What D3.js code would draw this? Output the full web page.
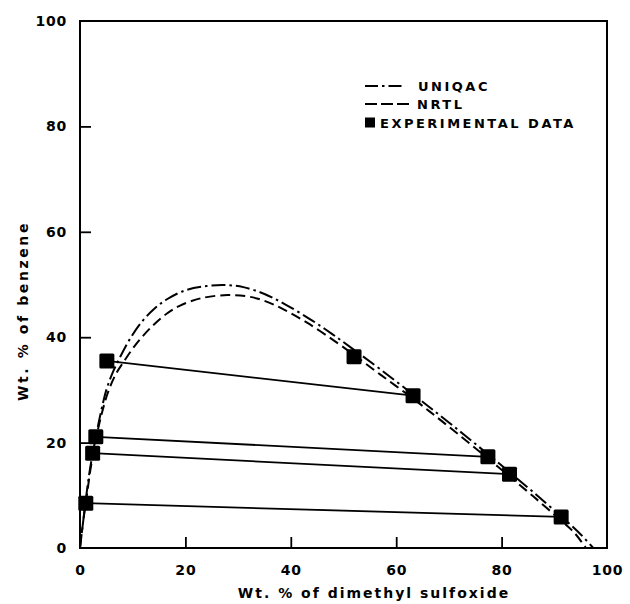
<!DOCTYPE html>
<html>
<head>
<meta charset="utf-8">
<script src="https://d3js.org/d3.v7.min.js"></script>
<style>
  body { margin: 0; background: #fff; }
  svg { display: block; }
  text { font-family: "DejaVu Sans", sans-serif; font-weight: bold; fill: #000; }
</style>
</head>
<body>
<script>
// tie-line ends (wt. % DMSO, wt. % benzene)
var raffinateDmso    = [5.1, 3.0, 2.4, 1.1];
var raffinateBenzene = [35.5, 21.1, 18.0, 8.5];
var extractDmso      = [63.2, 77.4, 81.5, 91.3];
var extractBenzene   = [28.9, 17.3, 14.0, 5.9];
// extra experimental point without a tie line
var loneDmso    = [52.0];
var loneBenzene = [36.3];

// calculated binodal curves
var uniquacDmso    = [0, 0.6, 1.2, 1.9, 2.8, 3.8, 5.0, 6.3, 7.6, 9.5, 11.7, 14, 16.5, 20, 24, 27.5, 31, 35, 39, 44, 48, 52, 57, 63, 68, 73, 77.4, 81.5, 86, 91.3, 94.5, 97.4];
var uniquacBenzene = [0, 5, 10, 15, 20, 25, 30, 33.5, 36.2, 39.7, 42.9, 45.3, 47.2, 48.9, 49.7, 49.9, 49.5, 48.2, 46.2, 43.2, 40.5, 37.6, 33.9, 29.3, 25.4, 21.4, 17.8, 14.4, 10.6, 6.0, 3.1, 0];
var nrtlDmso    = [0, 0.6, 1.3, 2.0, 2.9, 4.0, 5.3, 6.8, 8.2, 10.5, 13.6, 16.5, 19, 23, 28, 32, 35, 38, 43, 49, 52, 57, 63, 68, 73, 77.4, 81.5, 86, 91.3, 93.8, 96.0];
var nrtlBenzene = [0, 5, 10, 15, 20, 25, 29.5, 33, 35.2, 38.5, 42, 44.5, 46.0, 47.4, 48, 47.7, 46.9, 45.6, 42.8, 38.8, 36.6, 32.9, 28.5, 24.6, 20.6, 17.0, 13.6, 9.8, 5.2, 2.9, 0];

var tickValues = [0, 20, 40, 60, 80, 100];
var legendLabels = ["UNIQAC", "NRTL", "EXPERIMENTAL DATA"];

var width = 630, height = 604;
var svg = d3.select("body").append("svg")
    .attr("width", width)
    .attr("height", height);

var x = d3.scaleLinear().domain([0, 100]).range([80, 607]);
var y = d3.scaleLinear().domain([0, 100]).range([548, 21]);

// frame
svg.append("rect")
    .attr("x", x(0)).attr("y", y(100))
    .attr("width", x(100) - x(0)).attr("height", y(0) - y(100))
    .attr("fill", "none").attr("stroke", "#000").attr("stroke-width", 2);

// axes: inward ticks, no domain line
var xAxis = svg.append("g")
    .attr("transform", "translate(0," + y(0) + ")")
    .call(d3.axisBottom(x).tickValues(tickValues).tickSizeInner(-11).tickSizeOuter(0).tickPadding(17));
var yAxis = svg.append("g")
    .attr("transform", "translate(" + x(0) + ",0)")
    .call(d3.axisLeft(y).tickValues(tickValues).tickSizeInner(-11).tickSizeOuter(0).tickPadding(13));

[xAxis, yAxis].forEach(function (g) {
    g.select(".domain").remove();
    g.selectAll(".tick line")
        .attr("stroke", "#000").attr("stroke-width", 1.8)
        .style("display", function (d) { return (d === 0 || d === 100) ? "none" : null; });
    g.selectAll(".tick text")
        .style("font-family", "'DejaVu Sans', sans-serif")
        .style("font-weight", "bold")
        .style("font-size", "14px")
        .style("letter-spacing", "0.8px")
        .attr("fill", "#000");
});

// axis titles
svg.append("text")
    .attr("x", 374).attr("y", 598)
    .attr("text-anchor", "middle")
    .style("font-size", "14px")
    .style("letter-spacing", "2px")
    .text("Wt. % of dimethyl sulfoxide");

svg.append("text")
    .attr("transform", "translate(28,311) rotate(-90)")
    .attr("text-anchor", "middle")
    .style("font-size", "14px")
    .style("letter-spacing", "2.6px")
    .text("Wt. % of benzene");

// curves
var line = d3.line()
    .x(function (d) { return x(d[0]); })
    .y(function (d) { return y(d[1]); })
    .curve(d3.curveCatmullRom);

svg.append("path")
    .datum(d3.zip(uniquacDmso, uniquacBenzene))
    .attr("d", line)
    .attr("fill", "none").attr("stroke", "#000").attr("stroke-width", 2)
    .attr("stroke-dasharray", "14,4,2.5,4");

svg.append("path")
    .datum(d3.zip(nrtlDmso, nrtlBenzene))
    .attr("d", line)
    .attr("fill", "none").attr("stroke", "#000").attr("stroke-width", 2)
    .attr("stroke-dasharray", "10,5");

// tie lines
svg.selectAll(".tie")
    .data(d3.range(raffinateDmso.length))
    .enter().append("line")
    .attr("class", "tie")
    .attr("x1", function (i) { return x(raffinateDmso[i]); })
    .attr("y1", function (i) { return y(raffinateBenzene[i]); })
    .attr("x2", function (i) { return x(extractDmso[i]); })
    .attr("y2", function (i) { return y(extractBenzene[i]); })
    .attr("stroke", "#000").attr("stroke-width", 1.8);

// experimental points
var points = d3.zip(raffinateDmso.concat(extractDmso, loneDmso),
                    raffinateBenzene.concat(extractBenzene, loneBenzene));
var sq = 15;
svg.selectAll(".pt")
    .data(points)
    .enter().append("rect")
    .attr("class", "pt")
    .attr("x", function (d) { return x(d[0]) - sq / 2; })
    .attr("y", function (d) { return y(d[1]) - sq / 2; })
    .attr("width", sq).attr("height", sq)
    .attr("rx", 1.5)
    .attr("fill", "#000");

// legend
var legend = svg.append("g");
var lx = 365, ly = [86, 104, 122.5];

legend.append("line")
    .attr("x1", lx).attr("x2", lx + 38).attr("y1", ly[0]).attr("y2", ly[0])
    .attr("stroke", "#000").attr("stroke-width", 2)
    .attr("stroke-dasharray", "13,4,2.5,4");
legend.append("line")
    .attr("x1", lx).attr("x2", lx + 48).attr("y1", ly[1]).attr("y2", ly[1])
    .attr("stroke", "#000").attr("stroke-width", 2)
    .attr("stroke-dasharray", "12,4");
legend.append("rect")
    .attr("x", lx).attr("y", ly[2] - 5).attr("width", 10).attr("height", 10)
    .attr("fill", "#000");

var textX = [418, 417, 380];
legend.selectAll("text")
    .data(legendLabels)
    .enter().append("text")
    .attr("x", function (d, i) { return textX[i]; })
    .attr("y", function (d, i) { return ly[i] + 5; })
    .style("font-size", "13px")
    .style("letter-spacing", "2.5px")
    .text(function (d) { return d; });
</script>
</body>
</html>
